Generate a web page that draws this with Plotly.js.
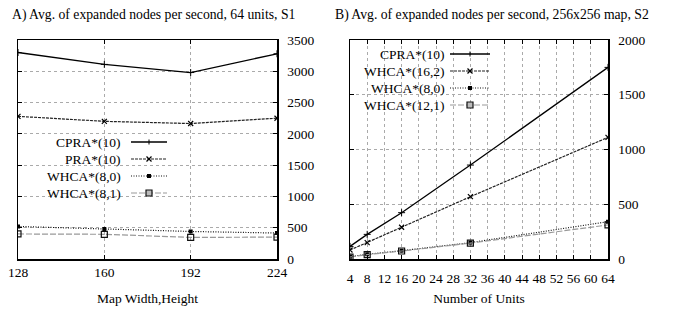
<!DOCTYPE html>
<html><head><meta charset="utf-8">
<script src="https://cdn.plot.ly/plotly-3.0.1.min.js"></script>
<style>html,body{margin:0;padding:0;background:#fff}#c{width:673px;height:318px}
#c text{font-family:'Liberation Serif' !important;}</style>
</head><body><div id="c"></div>
<script>
// Chart A: map sizes
const mapSizes = [128, 160, 192, 224];
const a_names = ['CPRA*(10)', 'PRA*(10)', 'WHCA*(8,0)', 'WHCA*(8,1)'];
const a_cpra = [3300, 3110, 2980, 3280];
const a_pra = [2280, 2200, 2165, 2250];
const a_whca80 = [520, 480, 440, 415];
const a_whca81 = [400, 395, 345, 350];
// Chart B: number of units
const units = [4, 8, 16, 32, 64];
const b_names = ['CPRA*(10)', 'WHCA*(16,2)', 'WHCA*(8,0)', 'WHCA*(12,1)'];
const b_cpra = [115, 225, 423, 858, 1750];
const b_whca162 = [82, 149, 290, 569, 1111];
const b_whca80 = [21, 43, 76, 149, 341];
const b_whca121 = [18, 40, 73, 145, 311];
const bTicks = [4,8,12,16,20,24,28,32,36,40,44,48,52,56,60,64];

const FONT = 'Liberation Serif';
const W = 673, TOP = 40, BOT = 259;
const px = v => v / W;
const py = v => (BOT - v) / (BOT - TOP);

const styles = [
  {key:'plus', line:{color:'#000',width:1.3,dash:'solid'}, marker:{symbol:'cross-thin',size:5,line:{color:'#000',width:1}}},
  {key:'x', line:{color:'#222',width:1.2,dash:'3px,1px'}, marker:{symbol:'x-thin',size:5,line:{color:'#000',width:1.2}}},
  {key:'fsq', line:{color:'#111',width:1.2,dash:'1px,1.5px'}, marker:{symbol:'square',size:4,color:'#000'}},
  {key:'osq', line:{color:'#999',width:1.2,dash:'6px,2px'}, marker:{symbol:'square-open',size:6,color:'#111',line:{width:1.2}}}
];
function tr(x,y,name,st,xa,ya){
  return {x:x,y:y,name:name,type:'scatter',mode:'lines+markers',xaxis:xa,yaxis:ya,showlegend:false,
    line:Object.assign({},st.line), marker:JSON.parse(JSON.stringify(st.marker))};
}
const aSeries = [a_cpra, a_pra, a_whca80, a_whca81];
const bSeries = [b_cpra, b_whca162, b_whca80, b_whca121];
const data = [];
aSeries.forEach((s,i)=>data.push(tr(mapSizes,s,a_names[i],styles[i],'x','y')));
bSeries.forEach((s,i)=>data.push(tr(units,s,b_names[i],styles[i],'x2','y2')));

// custom gnuplot-like legends (text left, sample right)
const shapes = [], annotations = [];
function legendBox(names, textRight, lineL, lineR, rows, box){
  shapes.push({type:'rect',xref:'paper',yref:'paper',x0:px(box[0]),x1:px(box[1]),y0:py(box[3]),y1:py(box[2]),
    fillcolor:'#fff',line:{width:0},layer:'between'});
  names.forEach((n,i)=>{
    const yy = rows[i], st = styles[i], mx = (lineL+lineR)/2;
    annotations.push({text:n,xref:'paper',yref:'paper',x:px(textRight),y:py(yy),xanchor:'right',yanchor:'middle',
      showarrow:false,font:{family:FONT,size:13.5,color:'#000'}});
    shapes.push({type:'line',xref:'paper',yref:'paper',x0:px(lineL),x1:px(lineR),y0:py(yy),y1:py(yy),
      line:{color:st.line.color,width:st.line.width,dash:st.line.dash}});
    const m = 2.5;
    if(st.key==='plus'){
      shapes.push({type:'line',xref:'paper',yref:'paper',x0:px(mx),x1:px(mx),y0:py(yy-m),y1:py(yy+m),line:{color:'#000',width:1}});
    } else if(st.key==='x'){
      shapes.push({type:'line',xref:'paper',yref:'paper',x0:px(mx-m),x1:px(mx+m),y0:py(yy-m),y1:py(yy+m),line:{color:'#000',width:1.2}});
      shapes.push({type:'line',xref:'paper',yref:'paper',x0:px(mx-m),x1:px(mx+m),y0:py(yy+m),y1:py(yy-m),line:{color:'#000',width:1.2}});
    } else if(st.key==='fsq'){
      shapes.push({type:'rect',xref:'paper',yref:'paper',x0:px(mx-2),x1:px(mx+2),y0:py(yy-2),y1:py(yy+2),fillcolor:'#000',line:{width:0}});
    } else {
      shapes.push({type:'rect',xref:'paper',yref:'paper',x0:px(mx-3),x1:px(mx+3),y0:py(yy-3),y1:py(yy+3),fillcolor:'#bbb',line:{color:'#111',width:1.2}});
    }
  });
}
legendBox(a_names, 123, 131, 167, [142, 159, 176, 193], [45, 172, 133, 201]);
legendBox(b_names, 447, 450, 490, [54, 71, 88, 105], [357, 497, 42, 116]);

const axBase = {showline:true,linecolor:'#000',linewidth:1.5,mirror:'ticks',ticks:'inside',ticklen:4,tickcolor:'#000',
  showgrid:true,gridcolor:'#aaa',griddash:'dot',gridwidth:1,zeroline:false,tickangle:0,
  tickfont:{family:FONT,size:13.5,color:'#000'}};
annotations.push(
  {text:'A) Avg. of expanded nodes per second, 64 units, S1',xref:'paper',yref:'paper',x:px(153),y:py(15),xanchor:'center',yanchor:'middle',showarrow:false,font:{family:FONT,size:13.7,color:'#000'}},
  {text:'B) Avg. of expanded nodes per second, 256x256 map, S2',xref:'paper',yref:'paper',x:px(492),y:py(15),xanchor:'center',yanchor:'middle',showarrow:false,font:{family:FONT,size:13.7,color:'#000'}}
);
const layout = {
  width:673,height:318,paper_bgcolor:'#fff',plot_bgcolor:'#fff',
  margin:{l:0,r:0,t:TOP,b:318-BOT},
  font:{family:FONT,color:'#000'},
  showlegend:false,
  xaxis:Object.assign({},axBase,{domain:[px(18),px(277)],range:[128,224],tickvals:mapSizes,anchor:'y',
    title:{text:'Map Width,Height',font:{family:FONT,size:13.5,color:'#000'},standoff:15}}),
  yaxis:Object.assign({},axBase,{domain:[0,1],range:[0,3500],dtick:500,side:'right',anchor:'x',ticklabelstandoff:6}),
  xaxis2:Object.assign({},axBase,{domain:[px(350),px(608)],range:[4,64],tickvals:bTicks,anchor:'y2',ticklabelstandoff:6,
    title:{text:'Number of Units',font:{family:FONT,size:13.5,color:'#000'},standoff:9}}),
  yaxis2:Object.assign({},axBase,{domain:[0,1],range:[0,2000],dtick:500,side:'right',anchor:'x2',ticklabelstandoff:6}),
  shapes:shapes,
  annotations:annotations
};
Plotly.newPlot('c',data,layout,{displayModeBar:false,staticPlot:true});
</script></body></html>
